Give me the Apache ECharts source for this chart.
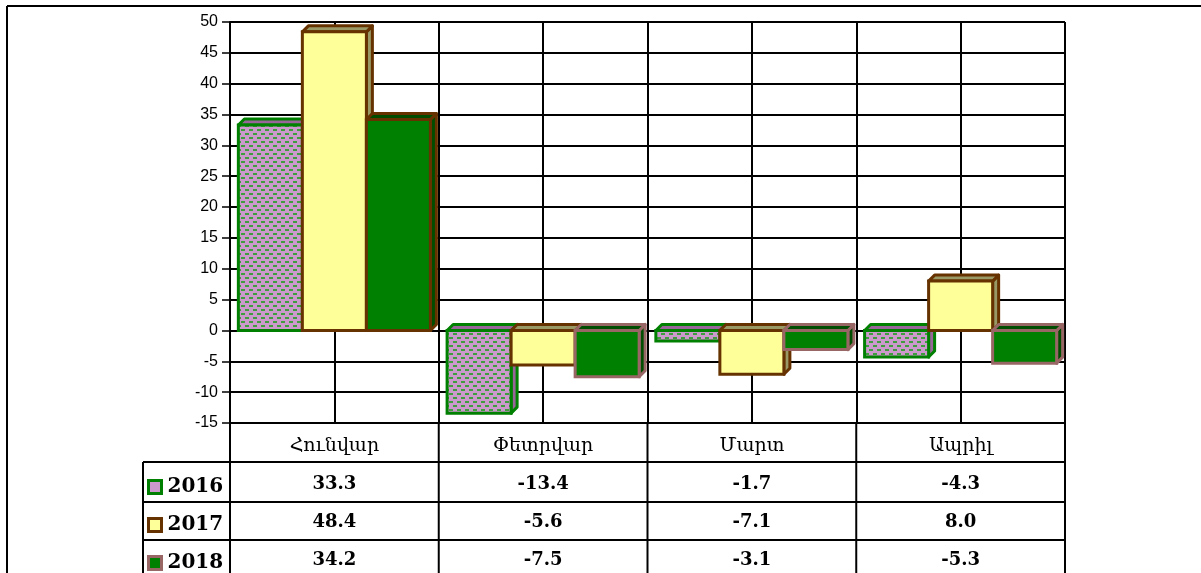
<!DOCTYPE html>
<html>
<head>
<meta charset="utf-8">
<script src="https://cdn.jsdelivr.net/npm/echarts@6/dist/echarts.min.js"></script>
<style>
  html, body { margin: 0; padding: 0; background: #fff; }
  #chart { width: 1201px; height: 573px; }
</style>
</head>
<body>
<div id="chart"></div>
<script>
// data
const categories = ['Հունվար', 'Փետրվար', 'Մարտ', 'Ապրիլ']
const years = ['2016', '2017', '2018']
const values2016 = [33.3, -13.4, -1.7, -4.3]
const values2017 = [48.4, -5.6, -7.1, 8.0]
const values2018 = [34.2, -7.5, -3.1, -5.3]
const yTicks = { min: -15, max: 50, interval: 5 }

// layout
const GRID = { left: 230, right: 136, top: 22, bottom: 150 }
const PLOT_RIGHT = 1201 - GRID.right
const AXIS_Y = 573 - GRID.bottom
const TABLE_LEFT = 143
const ROW_LINES = [462, 502, 540]
const DEPTH = 6

// lavender with green dashes, like the excel fill
const makePattern = () => {
  const c = document.createElement('canvas')
  c.width = 8
  c.height = 8
  const ctx = c.getContext('2d')
  ctx.fillStyle = '#CC99CC'
  ctx.fillRect(0, 0, 8, 8)
  ctx.fillStyle = '#3E9E3E'
  ctx.fillRect(1, 1, 4, 2)
  ctx.fillRect(5, 5, 3, 2)
  ctx.fillRect(0, 5, 1, 2)
  return { image: c, repeat: 'repeat' }
}
const pattern2016 = makePattern()

const styles = [
  { fill: pattern2016, face: '#996699', border: ['#008000', '#008000', '#008000', '#008000'] },
  { fill: '#FFFF99', face: '#999966', border: ['#663300', '#663300', '#663300', '#663300'] },
  { fill: '#008000', face: '#004D00', border: ['#663300', '#996666', '#996666', '#996666'] },
]

// 3d box: front, top and right side
const makeRender = (pos, st) => (params, api) => {
  const cat = api.value(0)
  const val = api.value(1)
  const zero = api.coord([cat, 0])
  const end = api.coord([cat, val])
  const catW = api.size([1, 0])[0]
  const bw = catW * 0.92 / 3
  const x0 = zero[0] - 1.5 * bw + pos * bw
  const yTop = Math.min(zero[1], end[1])
  const h = Math.abs(zero[1] - end[1])
  const stroke = st.border[params.dataIndex]
  const lw = 3
  return {
    type: 'group',
    children: [
      {
        type: 'polygon',
        shape: { points: [[x0 + bw, yTop], [x0 + bw + DEPTH, yTop - DEPTH], [x0 + bw + DEPTH, yTop + h - DEPTH], [x0 + bw, yTop + h]] },
        style: { fill: st.face, stroke, lineWidth: lw, lineJoin: 'round' },
      },
      {
        type: 'polygon',
        shape: { points: [[x0, yTop], [x0 + DEPTH, yTop - DEPTH], [x0 + bw + DEPTH, yTop - DEPTH], [x0 + bw, yTop]] },
        style: { fill: st.face, stroke, lineWidth: lw, lineJoin: 'round' },
      },
      {
        type: 'rect',
        shape: { x: x0, y: yTop, width: bw, height: h },
        style: { fill: st.fill, stroke, lineWidth: lw },
      },
    ],
  }
}

const allValues = [values2016, values2017, values2018]

const series = years.map((y, i) => ({
  name: y,
  type: 'custom',
  xAxisIndex: 0,
  yAxisIndex: 0,
  renderItem: makeRender(i, styles[i]),
  itemStyle: { color: i === 0 ? '#CC99CC' : styles[i].fill, borderColor: styles[i].border[1], borderWidth: 3 },
  encode: { x: 0, y: 1 },
  data: allValues[i].map((v, k) => [k, v]),
  z: 3,
}))

const tableFont = '"DejaVu Serif", serif'

const hLine = (x1, x2, y) => ({
  type: 'line',
  shape: { x1, y1: y, x2, y2: y },
  style: { stroke: '#000', lineWidth: 2 },
  z: 10,
})
const vLine = (x, y1, y2) => ({
  type: 'line',
  shape: { x1: x, y1, x2: x, y2 },
  style: { stroke: '#000', lineWidth: 2 },
  z: 10,
})

const catW = (PLOT_RIGHT - GRID.left) / categories.length
const graphics = [
  // outer frame
  hLine(7, 1201, 6),
  vLine(7, 6, 573),
  // table
  ...ROW_LINES.map(y => hLine(TABLE_LEFT, PLOT_RIGHT, y)),
  vLine(TABLE_LEFT, ROW_LINES[0], 573),
  ...categories.map((c, i) => vLine(GRID.left + catW * (i + 1), AXIS_Y, 573)),
  vLine(GRID.left, AXIS_Y, 573),
]

const chart = echarts.init(document.getElementById('chart'))
chart.setOption({
  animation: false,
  backgroundColor: '#fff',
  grid: { ...GRID, containLabel: false },
  legend: {
    orient: 'vertical',
    left: 147,
    top: 477,
    padding: 0,
    itemWidth: 13,
    itemHeight: 13,
    itemGap: 18,
    icon: 'rect',
    selectedMode: false,
    textStyle: { fontFamily: tableFont, fontWeight: 'bold', fontSize: 20, lineHeight: 20, color: '#000', padding: [0, 0, 0, 1] },
    data: years.map((y, i) => ({
      name: y,
      itemStyle: {
        color: i === 0 ? '#CC99CC' : styles[i].fill,
        borderColor: styles[i].border[1],
        borderWidth: 3,
      },
    })),
  },
  xAxis: [
    {
      type: 'category',
      data: categories,
      position: 'bottom',
      axisLine: { onZero: false, lineStyle: { color: '#000', width: 2 } },
      axisTick: { show: false },
      splitLine: { show: false },
      axisLabel: {
        margin: 4,
        interval: 0,
        color: '#000',
        formatter: (value, idx) =>
          `{c|${value}}\n` + allValues.map(arr => `{v|${arr[idx].toFixed(1)}}`).join('\n'),
        rich: {
          c: { fontFamily: tableFont, fontSize: 19, lineHeight: 38, color: '#000' },
          v: { fontFamily: tableFont, fontSize: 18, fontWeight: 'bold', lineHeight: 38, color: '#000' },
        },
      },
    },
    {
      // half-category gridlines
      type: 'value',
      min: 0,
      max: categories.length * 2,
      interval: 1,
      position: 'bottom',
      axisLine: { show: false },
      axisTick: { show: false },
      axisLabel: { show: false },
      splitLine: { show: true, lineStyle: { color: '#000', width: 2 } },
    },
  ],
  yAxis: {
    type: 'value',
    ...yTicks,
    axisLine: { show: true, lineStyle: { color: '#000', width: 2 } },
    axisTick: { show: true, length: 8, lineStyle: { color: '#000', width: 1.5 } },
    axisLabel: { margin: 12, color: '#000', fontSize: 16, fontFamily: '"Liberation Sans", Arial, sans-serif' },
    splitLine: { show: true, lineStyle: { color: '#000', width: 2 } },
  },
  series,
  graphic: graphics,
})
</script>
</body>
</html>
